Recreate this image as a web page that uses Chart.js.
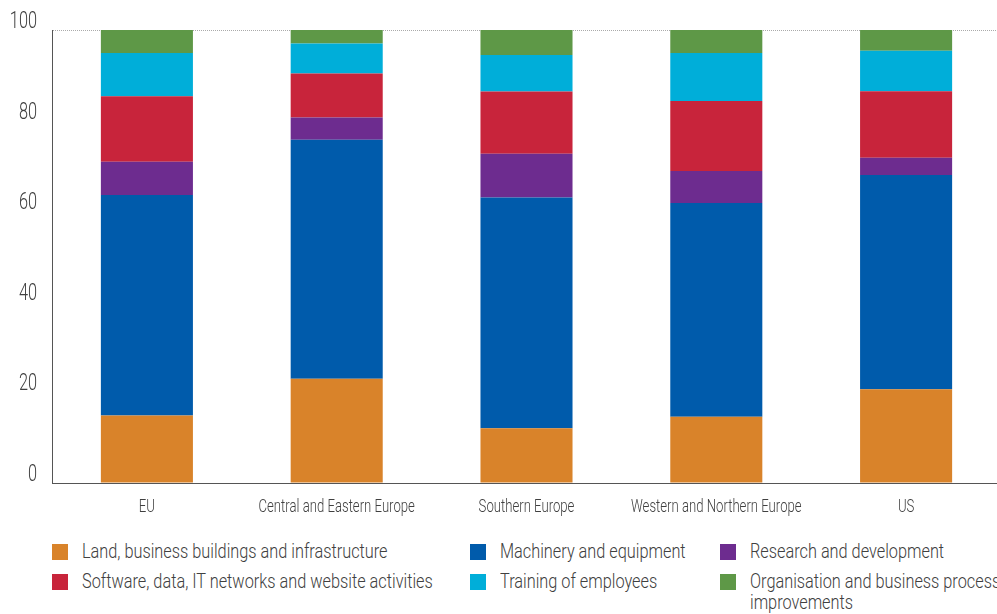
<!DOCTYPE html>
<html lang="en">
<head>
    <meta charset="UTF-8">
    <title>Investment by type</title>
    <script src="https://cdn.jsdelivr.net/npm/chart.js"></script>
    <style>
        body {
            margin: 0;
            background: #ffffff;
            width: 997px;
            height: 614px;
            overflow: hidden;
            position: relative;
            font-family: 'Roboto', sans-serif;
            color: #404040;
        }
        #chart {
            position: absolute;
            left: 0;
            top: 0;
        }
        .legend {
            position: absolute;
            left: 0;
            top: 541px;
            width: 1010px;
        }
        .legend .item {
            position: absolute;
            font-size: 20px;
            font-weight: 300;
            line-height: 21px;
            white-space: nowrap;
        }
        .legend .box {
            position: absolute;
            left: 0;
            top: 3px;
            width: 16px;
            height: 16px;
        }
        .legend .txt {
            position: absolute;
            left: 30px;
            top: 0;
            transform: scaleX(0.815);
            transform-origin: left top;
        }
    </style>
</head>
<body>
    <canvas id="chart" width="1002" height="525"></canvas>
    <div class="legend" id="legend"></div>
    <script>
        const categories = ['EU', 'Central and Eastern Europe', 'Southern Europe', 'Western and Northern Europe', 'US'];
        const seriesNames = [
            'Land, business buildings and infrastructure',
            'Machinery and equipment',
            'Research and development',
            'Software, data, IT networks and website activities',
            'Training of employees',
            'Organisation and business process improvements'
        ];
        const land = [14.9, 23.0, 12.1, 14.6, 20.7];
        const machinery = [48.7, 52.8, 50.9, 47.2, 47.3];
        const research = [7.3, 4.9, 9.7, 7.1, 3.8];
        const software = [14.5, 9.7, 13.7, 15.4, 14.7];
        const training = [9.5, 6.6, 8.1, 10.6, 8.9];
        const organisation = [5.1, 3.0, 5.5, 5.1, 4.6];
        const yTicks = [0, 20, 40, 60, 80, 100];

        const colors = ['#d9832a', '#005bab', '#6d2c8f', '#c8243b', '#00aed9', '#5e9847'];
        const seriesData = [land, machinery, research, software, training, organisation];

        const textColor = '#404040';

        const datasets = seriesData.map((d, i) => ({
            label: seriesNames[i],
            data: d,
            backgroundColor: colors[i],
            borderWidth: 0,
            barPercentage: 0.485,
            categoryPercentage: 1.0
        }));

        // the source uses a condensed face, so squeeze the tick text horizontally
        function condensedText(ctx, text, x, y, align, squeeze, font) {
            ctx.save();
            ctx.font = font;
            ctx.fillStyle = textColor;
            ctx.textAlign = align;
            ctx.textBaseline = 'middle';
            ctx.translate(x, y);
            ctx.scale(squeeze, 1);
            ctx.fillText(text, 0, 0);
            ctx.restore();
        }

        const tickLabels = {
            id: 'tickLabels',
            afterDraw: (chart) => {
                const ctx = chart.ctx;
                const xs = chart.scales.x;
                const ys = chart.scales.y;
                categories.forEach((c, i) => {
                    condensedText(ctx, c, xs.getPixelForTick(i), xs.top + 24, 'center', 0.73, '300 18px Roboto');
                });
                yTicks.forEach((v) => {
                    condensedText(ctx, String(v), ys.right - 15, ys.getPixelForValue(v) - 8, 'right', 0.68, '300 24px Roboto');
                });
            }
        };

        new Chart(document.getElementById('chart').getContext('2d'), {
            type: 'bar',
            data: { labels: categories, datasets: datasets },
            options: {
                responsive: false,
                animation: false,
                layout: { padding: { top: 30, right: 1, bottom: 0, left: 0 } },
                plugins: {
                    legend: { display: false },
                    tooltip: { enabled: false }
                },
                scales: {
                    x: {
                        stacked: true,
                        grid: { display: false },
                        border: { display: true, color: '#555555', dash: [1, 1], width: 1 },
                        ticks: { display: false },
                        afterFit: (scale) => { scale.height = 42; }
                    },
                    y: {
                        stacked: true,
                        min: 0,
                        max: 100,
                        afterBuildTicks: (scale) => { scale.ticks = yTicks.map(v => ({ value: v })); },
                        grid: {
                            drawTicks: false,
                            color: (c) => (c.tick && c.tick.value === 100) ? '#aaaaaa' : 'rgba(0,0,0,0)',
                            lineWidth: 1
                        },
                        border: { display: true, color: '#555555', dash: [1, 1], width: 1 },
                        ticks: { display: false },
                        afterFit: (scale) => { scale.width = 52; }
                    }
                }
            },
            plugins: [tickLabels]
        });

        // legend in three columns, row-major
        const colX = [52, 470, 720];
        const rowY = [0, 30];
        const legend = document.getElementById('legend');
        seriesNames.forEach((name, i) => {
            const item = document.createElement('div');
            item.className = 'item';
            item.style.left = colX[i % 3] + 'px';
            item.style.top = rowY[Math.floor(i / 3)] + 'px';
            const box = document.createElement('div');
            box.className = 'box';
            box.style.background = colors[i];
            const txt = document.createElement('div');
            txt.className = 'txt';
            if (i === 5) {
                const words = name.split(' ');
                txt.innerHTML = words.slice(0, -1).join(' ') + '<br>' + words[words.length - 1];
            } else {
                txt.textContent = name;
            }
            item.appendChild(box);
            item.appendChild(txt);
            legend.appendChild(item);
        });
    </script>
</body>
</html>
